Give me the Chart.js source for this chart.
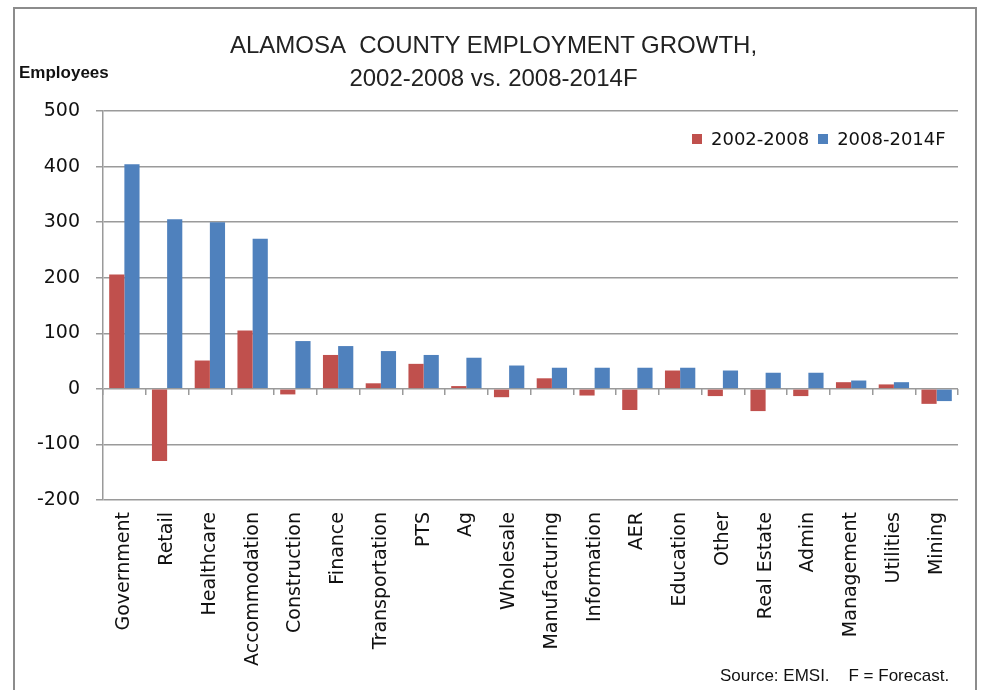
<!DOCTYPE html>
<html>
<head>
<meta charset="utf-8">
<script src="https://cdn.jsdelivr.net/npm/chart.js@4.4.1/dist/chart.umd.min.js"></script>
<style>
  body { margin: 0; background: #fff; }
  #wrap { position: relative; width: 987px; height: 690px; overflow: hidden; }
  #frame { position: absolute; left: 13px; top: 7px; width: 960px; height: 720px; border: 2px solid #8c8c8c; pointer-events: none; }
  canvas { position: absolute; left: 0; top: 0; }
  .title { position: absolute; left: 0; width: 987px; text-align: center; font-family: "Liberation Sans", sans-serif; font-size: 24px; color: #222; }
  #yTitle { position: absolute; left: 19px; top: 63px; font-family: "Liberation Sans", sans-serif; font-weight: bold; font-size: 17px; color: #111; }
  #source { position: absolute; left: 720px; top: 666px; font-family: "Liberation Sans", sans-serif; font-size: 17px; color: #111; white-space: pre; }
  #legend { position: absolute; left: 692px; top: 128px; display: flex; align-items: center; font-family: "DejaVu Sans", sans-serif; font-size: 18px; color: #111; }
  #legend .item { display: flex; align-items: center; margin-right: 9px; }
  #legend .box { width: 10px; height: 10px; margin-right: 9px; }
</style>
</head>
<body>
<div id="wrap">
  <canvas id="empChart" width="987" height="690"></canvas>
  <div class="title" style="top:31px">ALAMOSA&nbsp; COUNTY EMPLOYMENT GROWTH,</div>
  <div class="title" style="top:64px">2002-2008 vs. 2008-2014F</div>
  <div id="yTitle">Employees</div>
  <div id="legend"></div>
  <div id="source">Source: EMSI.    F = Forecast.</div>
  <div id="frame"></div>
</div>
<script>
/* ================= DATA ================= */
const categories = ['Government', 'Retail', 'Healthcare', 'Accommodation', 'Construction', 'Finance',
    'Transportation', 'PTS', 'Ag', 'Wholesale', 'Manufacturing', 'Information', 'AER', 'Education',
    'Other', 'Real Estate', 'Admin', 'Management', 'Utilities', 'Mining'];
const growth0208 = [206, -130, 51, 105, -10, 61, 10, 45, 5, -15, 19, -12, -38, 33, -13, -40, -13, 12, 8, -27];
const growth0814 = [404, 305, 300, 270, 86, 77, 68, 61, 56, 42, 38, 38, 38, 38, 33, 29, 29, 15, 12, -22];
const seriesLabels = ['2002-2008', '2008-2014F'];
const seriesColors = ['#C0504D', '#4F81BD'];
const yMin = -200, yMax = 500, yStep = 100;

const gridColor = '#9a9a9a';

/* ================= CHART ================= */
const ctx = document.getElementById('empChart');
const empChart = new Chart(ctx, {
    type: 'bar',
    data: {
        labels: categories,
        datasets: [
            { label: seriesLabels[0], data: growth0208, backgroundColor: seriesColors[0] },
            { label: seriesLabels[1], data: growth0814, backgroundColor: seriesColors[1] }
        ]
    },
    options: {
        responsive: false,
        animation: false,
        layout: { padding: { left: 0, right: 29, top: 111, bottom: 0 } },
        datasets: { bar: { categoryPercentage: 0.71, barPercentage: 1.0 } },
        plugins: { legend: { display: false }, tooltip: { enabled: false } },
        scales: {
            x: {
                grid: { display: false, drawTicks: false },
                border: { display: false },
                ticks: {
                    autoSkip: false, minRotation: 90, maxRotation: 90, padding: 12,
                    color: '#111', font: { family: 'DejaVu Sans', size: 19 }
                },
                afterFit: (scale) => { scale.height = 190; }
            },
            // tick marks along the zero line
            x2: {
                type: 'category',
                labels: categories,
                position: { y: 0 },
                offset: true,
                grid: { offset: true, drawOnChartArea: false, drawTicks: true, tickLength: 6, color: gridColor, lineWidth: 1.5 },
                border: { display: false },
                ticks: { display: false }
            },
            y: {
                min: yMin,
                max: yMax,
                ticks: {
                    stepSize: yStep, padding: 16, color: '#111',
                    font: { family: 'DejaVu Sans', size: 19 }
                },
                grid: { color: gridColor, lineWidth: 1.5, tickLength: 7 },
                border: { color: gridColor, width: 1.5 },
                afterFit: (scale) => { scale.width = 103; }
            }
        }
    }
});

/* ================= LEGEND ================= */
document.getElementById('legend').innerHTML = empChart.data.datasets.map(ds => `
    <div class="item"><span class="box" style="background:${ds.backgroundColor}"></span>${ds.label}</div>
`).join('');
</script>
</body>
</html>
